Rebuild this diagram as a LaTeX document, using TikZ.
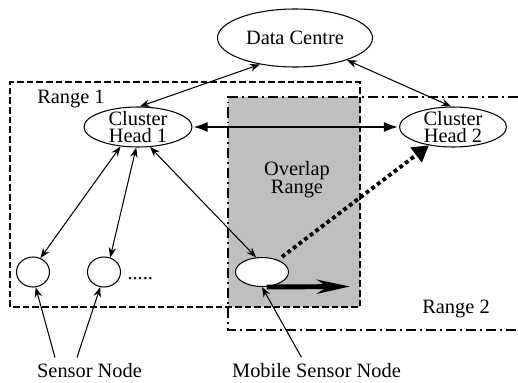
\documentclass[tikz,border=0pt]{standalone}
\usepackage{fontspec}
\setmainfont{Liberation Serif}
\usetikzlibrary{shapes.geometric, arrows.meta, calc}

\begin{document}
\begin{tikzpicture}[>={Stealth[length=0.2cm, width=0.15cm]}, font=\fontsize{11.6}{10.2}\selectfont, line width=0.6pt,
  blob/.style={draw, ellipse, fill=white, inner sep=0pt},
  bold link/.style={line width=1.7pt, {Latex[length=0.3cm, width=0.2cm]}-{Latex[length=0.3cm, width=0.2cm]}},
  dotted link/.style={line width=2.2pt, dash pattern=on 2.2pt off 1.8pt, -{Triangle[length=0.32cm, width=0.36cm]}, shorten <=0.1cm},
  move/.style={line width=2.8pt, -{Stealth[length=0.66cm, width=0.28cm]}},
  range one/.style={line width=1.1pt, dash pattern=on 3.8pt off 1.7pt},
  range two/.style={line width=1.1pt, dash pattern=on 5.7pt off 2.3pt on 1.1pt off 2.3pt}]
\useasboundingbox (0,0) rectangle (10.36,7.64);
\fill[black!25] (4.56,1.5) rectangle (7.2,5.7);
\draw[range one] (0.2,1.5) rectangle (7.2,6.0);
\draw[range two] (10.36,5.7) -- (4.56,5.7) -- (4.56,1.04) -- (10.36,1.04);
\node[blob, minimum width=3.1cm, minimum height=1.16cm] (dc) at (5.90,6.88) {Data Centre};
\node[blob, minimum width=2.16cm, minimum height=0.8cm, label={[align=center]center:Cluster\\Head 1}] (ch1) at (2.76,5.10) {};
\node[blob, minimum width=2.14cm, minimum height=0.8cm, label={[align=center]center:Cluster\\Head 2}] (ch2) at (9.06,5.10) {};
\node[blob, minimum width=0.66cm, minimum height=0.6cm] (s1) at (0.66,2.2) {};
\node[blob, minimum width=0.66cm, minimum height=0.6cm] (s2) at (2.08,2.2) {};
\node[blob, minimum width=1.06cm, minimum height=0.58cm] (mob) at (5.24,2.2) {};
\node (r1) at (1.42,5.66) {Range 1};
\node (r2) at (9.12,1.46) {Range 2};
\node[align=center] (ov) at (5.94,4.04) {Overlap\\Range};
\node[anchor=base west, inner sep=0pt] (dots) at (2.54,2.06) {.....};
\node (sn) at (1.79,0.22) {Sensor Node};
\node (msn) at (6.33,0.22) {Mobile Sensor Node};
\coordinate (goal) at (7.0,1.91);
\draw[<->] (dc.217) -- (ch1.85);
\draw[<->] (dc.337) -- (ch2.95);
\draw[bold link] (ch1) -- (ch2);
\draw[<->] (ch1.228) -- (s1.62);
\draw[<->] (ch1.265) -- (s2.67);
\draw[<->] (ch1.301) -- (mob.112);
\draw[->] ([xshift=-0.69cm]sn.north) -- (s1.280);
\draw[->] ([xshift=-0.25cm]sn.north) -- (s2.256);
\draw[->] ([xshift=-0.3cm]msn.north) -- (mob.south);
\draw[dotted link] (mob) -- (ch2);
\draw[move] ([xshift=0.1cm]mob.south) -- (goal);
\end{tikzpicture}
\end{document}
